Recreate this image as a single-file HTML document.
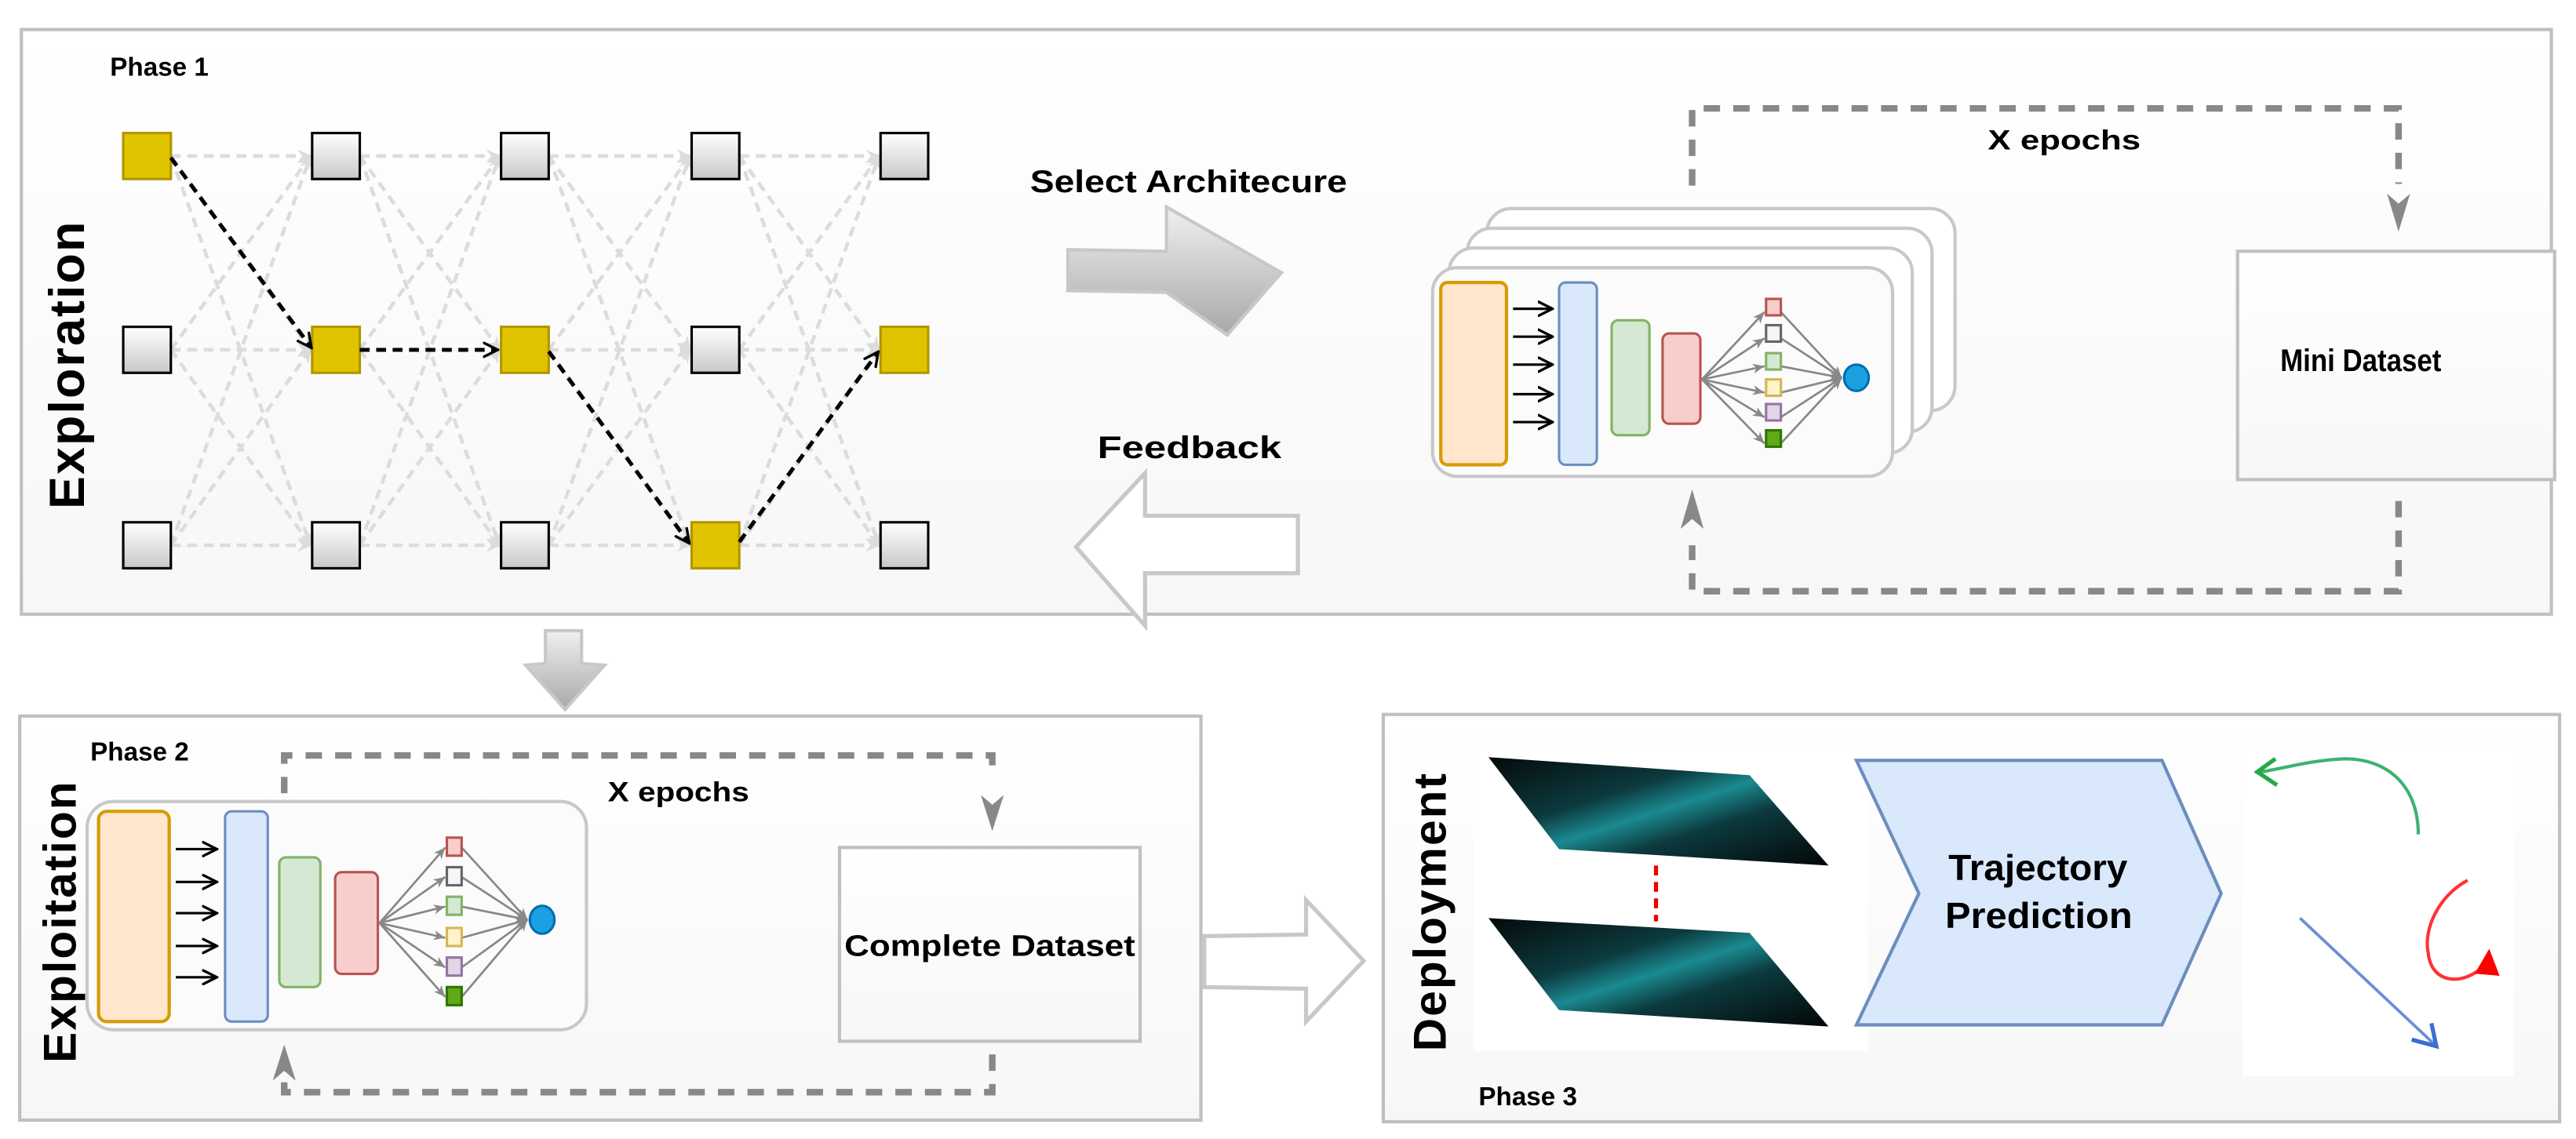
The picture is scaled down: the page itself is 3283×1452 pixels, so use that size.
<!DOCTYPE html>
<html><head><meta charset="utf-8"><style>
html,body{margin:0;padding:0;background:#fff;}
svg{display:block;}
text{font-family:"Liberation Sans",sans-serif;font-weight:bold;fill:#000;}
</style></head><body>
<svg width="3283" height="1452" viewBox="0 0 1568 693.5" preserveAspectRatio="none" xmlns="http://www.w3.org/2000/svg">
<defs>
<linearGradient id="pg" x1="0" y1="0" x2="0" y2="1"><stop offset="0" stop-color="#ffffff"/><stop offset="1" stop-color="#f7f7f7"/></linearGradient>
<linearGradient id="ng" x1="0" y1="0" x2="0" y2="1"><stop offset="0" stop-color="#ffffff"/><stop offset="1" stop-color="#c8c8c8"/></linearGradient>
<linearGradient id="ag" x1="0" y1="0" x2="0" y2="1"><stop offset="0" stop-color="#f0f0f0"/><stop offset="1" stop-color="#a8a8a8"/></linearGradient>
<linearGradient id="ig" x1="0" y1="0" x2="1" y2="1"><stop offset="0" stop-color="#050a0a"/><stop offset="0.35" stop-color="#0c3a3e"/><stop offset="0.5" stop-color="#1a8a90"/><stop offset="0.65" stop-color="#0c3a3e"/><stop offset="1" stop-color="#030606"/></linearGradient>
<marker id="mg" markerWidth="10" markerHeight="10" refX="8" refY="5" orient="auto" markerUnits="userSpaceOnUse"><path d="M0,1 L9,5 L0,9 L3,5z" fill="#dcdcdc"/></marker>
<marker id="mn" markerWidth="8" markerHeight="8" refX="7" refY="4" orient="auto" markerUnits="userSpaceOnUse"><path d="M0,1 L7,4 L0,7 L2,4z" fill="#888"/></marker>
<marker id="mb" markerWidth="10" markerHeight="10" refX="8" refY="5" orient="auto" markerUnits="userSpaceOnUse"><path d="M0,0.5 L9,5 L0,9.5" fill="none" stroke="#000" stroke-width="1.6"/></marker>
</defs>

<rect x="13" y="18" width="1540" height="356" fill="url(#pg)" stroke="#c0c0c0" stroke-width="2"/>
<text x="67" y="46" font-size="16" textLength="60" lengthAdjust="spacingAndGlyphs">Phase 1</text>
<text x="0" y="0" font-size="30" transform="translate(51,222) rotate(-90)" text-anchor="middle" letter-spacing="1">Exploration</text>

<g stroke="#dcdcdc" stroke-width="2.2" stroke-dasharray="6,4" fill="none" marker-end="url(#mg)">
<line x1="104" y1="95" x2="189" y2="95"/><line x1="104" y1="95" x2="189" y2="213"/><line x1="104" y1="95" x2="189" y2="332"/>
<line x1="104" y1="213" x2="189" y2="95"/><line x1="104" y1="213" x2="189" y2="213"/><line x1="104" y1="213" x2="189" y2="332"/>
<line x1="104" y1="332" x2="189" y2="95"/><line x1="104" y1="332" x2="189" y2="213"/><line x1="104" y1="332" x2="189" y2="332"/>
<line x1="219" y1="95" x2="304" y2="95"/><line x1="219" y1="95" x2="304" y2="213"/><line x1="219" y1="95" x2="304" y2="332"/>
<line x1="219" y1="213" x2="304" y2="95"/><line x1="219" y1="213" x2="304" y2="213"/><line x1="219" y1="213" x2="304" y2="332"/>
<line x1="219" y1="332" x2="304" y2="95"/><line x1="219" y1="332" x2="304" y2="213"/><line x1="219" y1="332" x2="304" y2="332"/>
<line x1="334" y1="95" x2="420" y2="95"/><line x1="334" y1="95" x2="420" y2="213"/><line x1="334" y1="95" x2="420" y2="332"/>
<line x1="334" y1="213" x2="420" y2="95"/><line x1="334" y1="213" x2="420" y2="213"/><line x1="334" y1="213" x2="420" y2="332"/>
<line x1="334" y1="332" x2="420" y2="95"/><line x1="334" y1="332" x2="420" y2="213"/><line x1="334" y1="332" x2="420" y2="332"/>
<line x1="450" y1="95" x2="535" y2="95"/><line x1="450" y1="95" x2="535" y2="213"/><line x1="450" y1="95" x2="535" y2="332"/>
<line x1="450" y1="213" x2="535" y2="95"/><line x1="450" y1="213" x2="535" y2="213"/><line x1="450" y1="213" x2="535" y2="332"/>
<line x1="450" y1="332" x2="535" y2="95"/><line x1="450" y1="332" x2="535" y2="213"/><line x1="450" y1="332" x2="535" y2="332"/>
</g>

<g stroke="#000" stroke-width="1.5">
<rect x="75" y="81" width="29" height="28" fill="#e0c400" stroke="#b09600"/>
<rect x="190" y="81" width="29" height="28" fill="url(#ng)"/>
<rect x="305" y="81" width="29" height="28" fill="url(#ng)"/>
<rect x="421" y="81" width="29" height="28" fill="url(#ng)"/>
<rect x="536" y="81" width="29" height="28" fill="url(#ng)"/>
<rect x="75" y="199" width="29" height="28" fill="url(#ng)"/>
<rect x="190" y="199" width="29" height="28" fill="#e0c400" stroke="#b09600"/>
<rect x="305" y="199" width="29" height="28" fill="#e0c400" stroke="#b09600"/>
<rect x="421" y="199" width="29" height="28" fill="url(#ng)"/>
<rect x="536" y="199" width="29" height="28" fill="#e0c400" stroke="#b09600"/>
<rect x="75" y="318" width="29" height="28" fill="url(#ng)"/>
<rect x="190" y="318" width="29" height="28" fill="url(#ng)"/>
<rect x="305" y="318" width="29" height="28" fill="url(#ng)"/>
<rect x="421" y="318" width="29" height="28" fill="#e0c400" stroke="#b09600"/>
<rect x="536" y="318" width="29" height="28" fill="url(#ng)"/>
</g>
<g stroke="#000" stroke-width="2.4" stroke-dasharray="6,4" fill="none" marker-end="url(#mb)">
<line x1="104" y1="96" x2="189" y2="211"/>
<line x1="219" y1="213" x2="302" y2="213"/>
<line x1="334" y1="214" x2="419" y2="330"/>
<line x1="450" y1="330" x2="534" y2="215"/>
</g>

<text x="627" y="117" font-size="19" textLength="193" lengthAdjust="spacingAndGlyphs">Select Architecure</text>
<path d="M650,152 L710,153 L710,126 L780,166 L747,204 L710,178 L650,177z" fill="url(#ag)" stroke="#c8c8c8" stroke-width="2"/>
<text x="668" y="279" font-size="19" textLength="112" lengthAdjust="spacingAndGlyphs">Feedback</text>
<path d="M655,333 L697,288 L697,314 L790,314 L790,349 L697,349 L697,381z" fill="#fff" stroke="#c8c8c8" stroke-width="2.5"/>

<g fill="#fff" stroke="#c8c8c8" stroke-width="2">
<rect x="905" y="127" width="285" height="123" rx="15"/>
<rect x="893" y="139" width="283" height="124" rx="15"/>
<rect x="882" y="151" width="282" height="125" rx="15"/>
<rect x="872" y="163" width="280" height="127" rx="15" fill="#fbfbfb"/>
</g>
<rect x="877" y="172" width="40" height="111" rx="4" fill="#ffe6cc" stroke="#d79b00" stroke-width="2"/>
<rect x="949" y="172" width="23" height="111" rx="4" fill="#dae8fc" stroke="#6c8ebf" stroke-width="1.5"/>
<rect x="981" y="195" width="23" height="70" rx="4" fill="#d5e8d4" stroke="#82b366" stroke-width="1.5"/>
<rect x="1012" y="203" width="23" height="55" rx="4" fill="#f8cecc" stroke="#b85450" stroke-width="1.5"/>
<g stroke="#000" stroke-width="1.5" marker-end="url(#mb)">
<line x1="921" y1="188" x2="944" y2="188"/><line x1="921" y1="205" x2="944" y2="205"/><line x1="921" y1="222" x2="944" y2="222"/><line x1="921" y1="240" x2="944" y2="240"/><line x1="921" y1="257" x2="944" y2="257"/>
</g>
<g stroke="#888" stroke-width="1.3" marker-end="url(#mn)">
<line x1="1036" y1="231" x2="1074" y2="190"/><line x1="1036" y1="231" x2="1074" y2="206"/><line x1="1036" y1="231" x2="1074" y2="223"/><line x1="1036" y1="231" x2="1074" y2="239"/><line x1="1036" y1="231" x2="1074" y2="254"/><line x1="1036" y1="231" x2="1074" y2="270"/>
<line x1="1084" y1="190" x2="1121" y2="230"/><line x1="1084" y1="206" x2="1121" y2="230"/><line x1="1084" y1="223" x2="1121" y2="230"/><line x1="1084" y1="239" x2="1121" y2="230"/><line x1="1084" y1="254" x2="1121" y2="230"/><line x1="1084" y1="270" x2="1121" y2="230"/>
</g>
<g stroke-width="1.5">
<rect x="1075" y="182" width="9" height="10" fill="#f8cecc" stroke="#b85450"/>
<rect x="1075" y="198" width="9" height="10" fill="#f5f5f5" stroke="#666"/>
<rect x="1075" y="215" width="9" height="10" fill="#d5e8d4" stroke="#82b366"/>
<rect x="1075" y="231" width="9" height="10" fill="#fff2cc" stroke="#d6b656"/>
<rect x="1075" y="246" width="9" height="10" fill="#e1d5e7" stroke="#9673a6"/>
<rect x="1075" y="262" width="9" height="10" fill="#60a917" stroke="#2d7600"/>
</g>
<ellipse cx="1130" cy="230" rx="7.5" ry="8" fill="#1ba1e2" stroke="#006eaf" stroke-width="1.5"/>

<g fill="none" stroke="#888" stroke-width="4" stroke-dasharray="10,8">
<path d="M1030,113 L1030,66 L1460,66 L1460,112"/>
<path d="M1460,305 L1460,360 L1030,360 L1030,332"/>
</g>
<path d="M1453,118 L1460,141 L1467,118 L1460,124z" fill="#888"/>
<path d="M1023,322 L1030,298 L1037,322 L1030,316z" fill="#888"/>
<text x="1210" y="91" font-size="17" textLength="93" lengthAdjust="spacingAndGlyphs">X epochs</text>
<rect x="1362" y="153" width="193" height="139" fill="url(#pg)" stroke="#c0c0c0" stroke-width="2"/>
<text x="1388" y="226" font-size="19" textLength="98" lengthAdjust="spacingAndGlyphs">Mini Dataset</text>

<path d="M332,384 L354,384 L354,404 L368,405 L344,432 L320,405 L332,404z" fill="url(#ag)" stroke="#c8c8c8" stroke-width="2"/>

<rect x="12" y="436" width="719" height="246" fill="url(#pg)" stroke="#c0c0c0" stroke-width="2"/>
<text x="55" y="463" font-size="16" textLength="60" lengthAdjust="spacingAndGlyphs">Phase 2</text>
<text x="0" y="0" font-size="28" transform="translate(46,561) rotate(-90)" text-anchor="middle" letter-spacing="1">Exploitation</text>
<rect x="53" y="488" width="304" height="139" rx="16" fill="#fbfbfb" stroke="#c8c8c8" stroke-width="2"/>
<rect x="60" y="494" width="43" height="128" rx="5" fill="#ffe6cc" stroke="#d79b00" stroke-width="2"/>
<rect x="137" y="494" width="26" height="128" rx="4" fill="#dae8fc" stroke="#6c8ebf" stroke-width="1.5"/>
<rect x="170" y="522" width="25" height="79" rx="4" fill="#d5e8d4" stroke="#82b366" stroke-width="1.5"/>
<rect x="204" y="531" width="26" height="62" rx="4" fill="#f8cecc" stroke="#b85450" stroke-width="1.5"/>
<g stroke="#000" stroke-width="1.5" marker-end="url(#mb)">
<line x1="107" y1="517" x2="131" y2="517"/><line x1="107" y1="537" x2="131" y2="537"/><line x1="107" y1="556" x2="131" y2="556"/><line x1="107" y1="576" x2="131" y2="576"/><line x1="107" y1="595" x2="131" y2="595"/>
</g>
<g stroke="#888" stroke-width="1.3" marker-end="url(#mn)">
<line x1="231" y1="562" x2="271" y2="516"/><line x1="231" y1="562" x2="271" y2="534"/><line x1="231" y1="562" x2="271" y2="552"/><line x1="231" y1="562" x2="271" y2="571"/><line x1="231" y1="562" x2="271" y2="589"/><line x1="231" y1="562" x2="271" y2="607"/>
<line x1="281" y1="516" x2="321" y2="560"/><line x1="281" y1="534" x2="321" y2="560"/><line x1="281" y1="552" x2="321" y2="560"/><line x1="281" y1="571" x2="321" y2="560"/><line x1="281" y1="589" x2="321" y2="560"/><line x1="281" y1="607" x2="321" y2="560"/>
</g>
<g stroke-width="1.5">
<rect x="272" y="510" width="9" height="11" fill="#f8cecc" stroke="#b85450"/>
<rect x="272" y="528" width="9" height="11" fill="#f5f5f5" stroke="#666"/>
<rect x="272" y="546" width="9" height="11" fill="#d5e8d4" stroke="#82b366"/>
<rect x="272" y="565" width="9" height="11" fill="#fff2cc" stroke="#d6b656"/>
<rect x="272" y="583" width="9" height="11" fill="#e1d5e7" stroke="#9673a6"/>
<rect x="272" y="601" width="9" height="11" fill="#60a917" stroke="#2d7600"/>
</g>
<ellipse cx="330" cy="560" rx="7.5" ry="8.5" fill="#1ba1e2" stroke="#006eaf" stroke-width="1.5"/>
<g fill="none" stroke="#888" stroke-width="4" stroke-dasharray="10,8">
<path d="M173,483 L173,460 L604,460 L604,472"/>
<path d="M604,642 L604,665 L173,665 L173,652"/>
</g>
<path d="M597,484 L604,506 L611,484 L604,490z" fill="#888"/>
<path d="M166,658 L173,636 L180,658 L173,652z" fill="#888"/>
<text x="370" y="488" font-size="17" textLength="86" lengthAdjust="spacingAndGlyphs">X epochs</text>
<rect x="511" y="516" width="183" height="118" fill="url(#pg)" stroke="#c0c0c0" stroke-width="2"/>
<text x="514" y="582" font-size="18" textLength="177" lengthAdjust="spacingAndGlyphs">Complete Dataset</text>

<path d="M733,570 L795,569 L795,548 L830,585 L795,622 L795,602 L733,601z" fill="#fff" stroke="#c8c8c8" stroke-width="2.5"/>

<rect x="842" y="435" width="716" height="248" fill="url(#pg)" stroke="#c0c0c0" stroke-width="2"/>
<text x="0" y="0" font-size="28" transform="translate(880,555) rotate(-90)" text-anchor="middle" letter-spacing="1">Deployment</text>
<rect x="897" y="458" width="240" height="182" fill="#fff"/>
<polygon points="906,461 1065,472 1113,527 949,517" fill="url(#ig)"/>
<polygon points="906,559 1065,568 1113,625 949,615" fill="url(#ig)"/>
<line x1="1008" y1="527" x2="1008" y2="561" stroke="#e00" stroke-width="2.5" stroke-dasharray="6,4"/>
<polygon points="1130,463 1316,463 1352,544 1316,624 1130,624 1168,544" fill="#dae8fc" stroke="#6c8ebf" stroke-width="2"/>
<text x="1186" y="536" font-size="22" textLength="109" lengthAdjust="spacingAndGlyphs">Trajectory</text>
<text x="1184" y="565" font-size="22" textLength="114" lengthAdjust="spacingAndGlyphs">Prediction</text>
<rect x="1365" y="457" width="165" height="198" fill="#fff"/>
<path d="M1472,508 C1472,480 1455,462 1427,462 C1405,463 1390,468 1376,470" fill="none" stroke="#3cb371" stroke-width="2"/>
<path d="M1385,462 L1374,470 L1386,478" fill="none" stroke="#22aa44" stroke-width="2.5"/>
<path d="M1502,536 C1485,545 1475,565 1478,580 C1480,600 1500,600 1512,588" fill="none" stroke="#ff3333" stroke-width="2"/>
<path d="M1508,592 L1515,580 L1520,593z" fill="#ff0000" stroke="#ff0000" stroke-width="2"/>
<line x1="1400" y1="559" x2="1482" y2="636" stroke="#6b8fd6" stroke-width="1.8"/>
<path d="M1468,633 L1483,637 L1480,623" fill="none" stroke="#3a6fd0" stroke-width="2.5"/>
<text x="900" y="673" font-size="16" textLength="60" lengthAdjust="spacingAndGlyphs">Phase 3</text>
</svg>
</body></html>
